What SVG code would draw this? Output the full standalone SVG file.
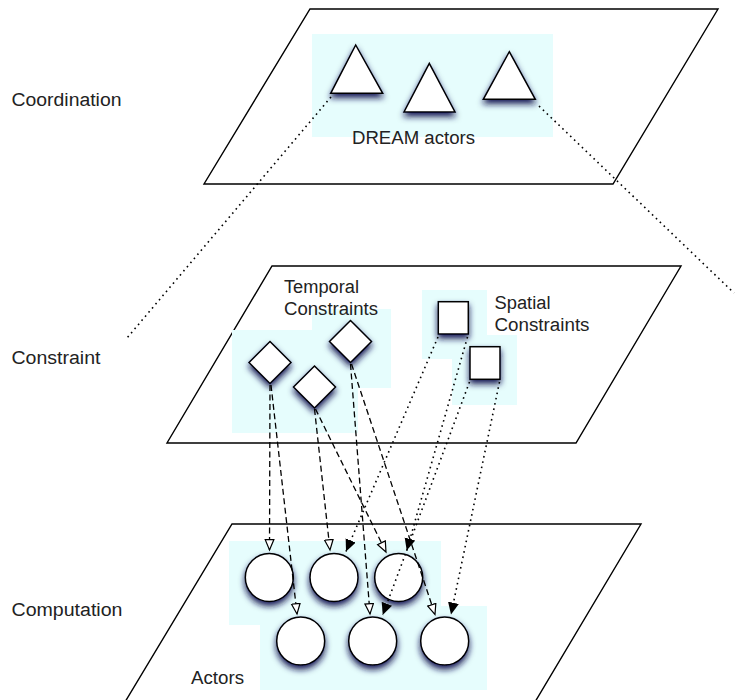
<svg xmlns="http://www.w3.org/2000/svg" width="735" height="700" viewBox="0 0 735 700">
  <style>
    .plane { fill: #ffffff; stroke: #000000; stroke-width: 1.4; }
    .zone { fill: #e6fdfd; }
    .node { fill: #ffffff; stroke: #000000; stroke-width: 1.5; filter: url(#glow); }
    .label { font-family: "Liberation Sans", Arial, sans-serif; font-size: 18px; fill: #222222; }
    .dash { fill: none; stroke: #000000; stroke-width: 1.3; stroke-dasharray: 6 3.5; marker-end: url(#open); }
    .dot { fill: none; stroke: #000000; stroke-width: 1.6; stroke-dasharray: 1.6 3.8; }
    .dot.arrow { marker-end: url(#solid); }
  </style>
  <defs>
    <filter id="glow" x="-40%" y="-40%" width="180%" height="190%">
      <feGaussianBlur in="SourceAlpha" stdDeviation="3.2" result="b"/>
      <feOffset in="b" dy="3.5" result="o"/>
      <feFlood flood-color="#141450" flood-opacity="0.95"/>
      <feComposite in2="o" operator="in" result="s"/>
      <feMerge>
        <feMergeNode in="s"/>
        <feMergeNode in="SourceGraphic"/>
      </feMerge>
    </filter>
    <marker id="open" markerUnits="userSpaceOnUse" markerWidth="13" markerHeight="11" refX="11" refY="5" orient="auto">
      <path d="M0.7,0.7 L11,5 L0.7,9.3 Z" fill="#ffffff" stroke="#000000" stroke-width="1.2"/>
    </marker>
    <marker id="solid" markerUnits="userSpaceOnUse" markerWidth="13" markerHeight="12" refX="12" refY="5.5" orient="auto">
      <path d="M0,0 L12,5.5 L0,11 Z" fill="#000000"/>
    </marker>
  </defs>

  <!-- layer planes -->
  <g id="planes">
    <polygon class="plane" points="310,9 718,9 613,184 204,184"/>
    <polygon class="plane" points="272,266 681,266 576,443 167,443"/>
    <polygon class="plane" points="232,524 641,524 535,702 125,702"/>
  </g>

  <!-- shaded groupings -->
  <g id="zones">
    <rect class="zone" x="312" y="34" width="241" height="103"/>
    <path class="zone" d="M232,330 H312 V309 H391 V388 H358 V433 H232 Z"/>
    <path class="zone" d="M422,290 H487 V335 H517 V405 H452 V359 H422 Z"/>
    <path class="zone" d="M229,541 H441 V606 H487 V690 H260 V625 H229 Z"/>
  </g>

  <!-- layer names -->
  <g id="layer-labels">
    <text class="label" x="11.5" y="105.5" textLength="110" lengthAdjust="spacingAndGlyphs">Coordination</text>
    <text class="label" x="11.5" y="363.5" textLength="89" lengthAdjust="spacingAndGlyphs">Constraint</text>
    <text class="label" x="11.5" y="615.5" textLength="111" lengthAdjust="spacingAndGlyphs">Computation</text>
  </g>

  <g id="group-labels">
    <text class="label" x="352" y="144" textLength="123" lengthAdjust="spacingAndGlyphs">DREAM actors</text>
    <text class="label" x="284" y="292.5" textLength="75" lengthAdjust="spacingAndGlyphs">Temporal</text>
    <text class="label" x="284" y="315" textLength="94" lengthAdjust="spacingAndGlyphs">Constraints</text>
    <text class="label" x="494.5" y="308.5" textLength="56" lengthAdjust="spacingAndGlyphs">Spatial</text>
    <text class="label" x="494.5" y="331" textLength="95" lengthAdjust="spacingAndGlyphs">Constraints</text>
    <text class="label" x="191" y="683.5" textLength="53" lengthAdjust="spacingAndGlyphs">Actors</text>
  </g>

  <!-- coordination actors -->
  <g id="dream1"><polygon class="node" points="355.7,45 382.7,93.3 330.7,93.3"/></g>
  <g id="dream2"><polygon class="node" points="429.3,63.3 455,112 404,112"/></g>
  <g id="dream3"><polygon class="node" points="509.3,51.7 535.3,99.3 483.3,99.3"/></g>

  <!-- temporal constraints -->
  <g id="temporal1"><polygon class="node" points="270,341.5 291,362.5 270,383.5 249,362.5"/></g>
  <g id="temporal2"><polygon class="node" points="314.5,366 335.5,387 314.5,408 293.5,387"/></g>
  <g id="temporal3"><polygon class="node" points="350.5,320.5 371.5,341.5 350.5,362.5 329.5,341.5"/></g>

  <!-- spatial constraints -->
  <g id="spatial1"><rect class="node" x="438.3" y="301.7" width="30" height="32.3"/></g>
  <g id="spatial2"><rect class="node" x="470" y="346.7" width="30" height="32.6"/></g>

  <!-- computation actors -->
  <g id="actor1"><circle class="node" cx="269.3" cy="577.5" r="24"/></g>
  <g id="actor2"><circle class="node" cx="334" cy="577.5" r="24"/></g>
  <g id="actor3"><circle class="node" cx="398.7" cy="577.5" r="24"/></g>
  <g id="actor4"><circle class="node" cx="300.7" cy="641" r="24"/></g>
  <g id="actor5"><circle class="node" cx="372.7" cy="641" r="24"/></g>
  <g id="actor6"><circle class="node" cx="444.7" cy="641" r="24"/></g>

  <!-- connectors -->
  <g id="connectors">
    <!-- projection of the coordination layer -->
    <line class="dot" x1="331" y1="97" x2="127" y2="338"/>
    <line class="dot" x1="539" y1="106" x2="734" y2="293"/>
    <!-- temporal constraints to actors -->
    <line class="dash" x1="270" y1="385" x2="269.5" y2="550"/>
    <line class="dash" x1="271" y1="385" x2="297" y2="614"/>
    <line class="dash" x1="314.5" y1="409" x2="330" y2="550"/>
    <line class="dash" x1="315.5" y1="409" x2="386" y2="552"/>
    <line class="dash" x1="350.5" y1="364" x2="370" y2="614"/>
    <line class="dash" x1="351.5" y1="364" x2="435" y2="614.5"/>
    <!-- spatial constraints to actors -->
    <line class="dot arrow" x1="438" y1="337" x2="346" y2="551.5"/>
    <line class="dot arrow" x1="467.5" y1="337" x2="406.7" y2="550.5"/>
    <line class="dot arrow" x1="469.5" y1="382" x2="382.7" y2="615"/>
    <line class="dot arrow" x1="499.5" y1="382" x2="451" y2="614.5"/>
  </g>
</svg>
